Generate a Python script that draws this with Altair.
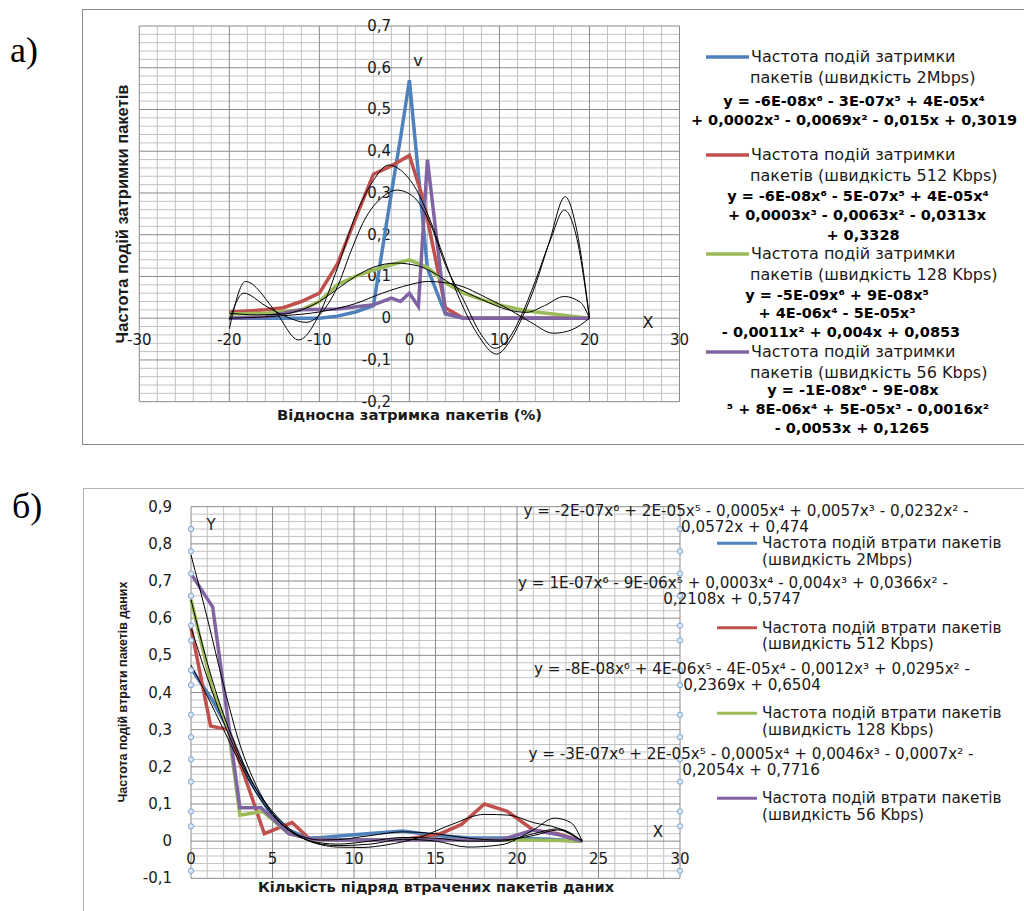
import altair as alt
import pandas as pd

# ---------------- Panel a: packet delay frequency ----------------
a_blue_x = [-20, -16, -12, -10, -8, -6, -4, -2, -1, 0, 2, 4, 6, 10, 14, 20]
a_blue_y = [0, 0, 0, 0, 0.005, 0.015, 0.03, 0.30, 0.43, 0.57, 0.12, 0.01, 0, 0, 0, 0]
a_red_x = [-20, -16, -14, -12, -10, -8, -4, -2, 0, 1.6, 4, 6, 10, 20]
a_red_y = [0.015, 0.02, 0.025, 0.04, 0.06, 0.13, 0.345, 0.365, 0.39, 0.28, 0.025, 0, 0, 0]
a_green_x = [-20, -16, -12, -10, -8, -6, -4, -2, 0, 2, 4, 6, 8, 10, 12, 14, 16, 18, 20]
a_green_y = [0.01, 0.012, 0.02, 0.04, 0.08, 0.1, 0.115, 0.128, 0.14, 0.122, 0.085, 0.06, 0.045, 0.032, 0.022, 0.015, 0.01, 0.005, 0]
a_purple_x = [-20, -16, -12, -8, -4, -2, -1, 0, 1, 2, 4, 6, 10, 14, 20]
a_purple_y = [0, 0.003, 0.02, 0.022, 0.032, 0.048, 0.04, 0.06, 0.028, 0.38, 0.012, 0, 0, 0, 0]

# trend curves (6th order)
ta_red_x = [-20, -18.2, -15, -12.3, -10, -8, -6, -4, -2.3, -1, 0.8, 2.3, 3.8, 5.3, 7.5, 9.7, 11, 12.5, 14, 15.5, 17.3, 18.5, 20]
ta_red_y = [-0.025, 0.088, 0.02, -0.052, 0.01, 0.12, 0.245, 0.33, 0.367, 0.355, 0.307, 0.235, 0.147, 0.06, -0.036, -0.086, -0.06, 0.0, 0.08, 0.18, 0.291, 0.22, 0.0]
ta_blue_x = [-20, -18.4, -16, -13.5, -11.5, -9.5, -8, -6.5, -5, -3, -1.4, 0.5, 2.3, 4.1, 6, 8, 9.5, 11, 12.3, 14, 15.7, 17.2, 18.5, 20]
ta_blue_y = [-0.005, 0.06, 0.03, 0.002, -0.01, 0.02, 0.075, 0.16, 0.235, 0.29, 0.307, 0.29, 0.227, 0.123, 0.044, -0.04, -0.072, -0.05, 0.0, 0.09, 0.19, 0.259, 0.2, 0.0]
ta_green_x = [-20, -17, -14, -12, -10, -8, -6, -4, -1.5, 1, 3, 5, 8, 11, 13, 15, 17.2, 19, 20]
ta_green_y = [0.012, 0.008, 0.01, 0.02, 0.04, 0.07, 0.1, 0.122, 0.132, 0.125, 0.105, 0.077, 0.045, 0.02, 0.014, 0.03, 0.052, 0.038, 0.0]
ta_purple_x = [-20, -17, -14, -10, -6, -3, 0, 2, 4, 6, 8, 11, 13.5, 16, 18, 20]
ta_purple_y = [0.0, 0.002, 0.006, 0.015, 0.035, 0.06, 0.08, 0.088, 0.085, 0.075, 0.055, 0.022, -0.01, -0.036, -0.028, 0.0]

a_xticks = [-30, -20, -10, 0, 10, 20, 30]
a_xlabels = ["-30", "-20", "-10", "0", "10", "20", "30"]
a_yticks = [-0.2, -0.1, 0, 0.1, 0.2, 0.3, 0.4, 0.5, 0.6, 0.7]
a_ylabels = ["-0,2", "-0,1", "0", "0,1", "0,2", "0,3", "0,4", "0,5", "0,6", "0,7"]
a_grid_x = list(range(-30, 31, 2))
a_grid_y = [round(-0.2 + 0.02 * i, 2) for i in range(46)]

a_legend = [["Частота подій затримки", "пакетів (швидкість 2Mbps)"],
            ["Частота подій затримки", "пакетів (швидкість 512 Kbps)"],
            ["Частота подій затримки", "пакетів (швидкість 128 Kbps)"],
            ["Частота подій затримки", "пакетів (швидкість 56 Kbps)"]]
a_eq = [["y = -6E-08x⁶ - 3E-07x⁵ + 4E-05x⁴", "+ 0,0002x³ - 0,0069x² - 0,015x + 0,3019"],
        ["y = -6E-08x⁶ - 5E-07x⁵ + 4E-05x⁴", "+ 0,0003x³ - 0,0063x² - 0,0313x", "+ 0,3328"],
        ["y = -5E-09x⁶ + 9E-08x⁵", "+ 4E-06x⁴ - 5E-05x³", "- 0,0011x² + 0,004x + 0,0853"],
        ["y = -1E-08x⁶ - 9E-08x", "⁵ + 8E-06x⁴ + 5E-05x³ - 0,0016x²", "- 0,0053x + 0,1265"]]

# ---------------- Panel b: consecutive packet loss frequency ----------------
b_blue_x = [0, 1.3, 2.3, 3.5, 4.8, 6, 7.2, 8, 10, 13, 15, 17, 20, 22, 24]
b_blue_y = [0.465, 0.38, 0.3, 0.17, 0.08, 0.03, 0.008, 0.01, 0.017, 0.027, 0.015, 0.009, 0.008, 0.005, 0]
b_red_x = [0, 1.2, 2.3, 4.5, 6.2, 7.3, 9, 11, 13, 15.3, 16.6, 18, 19.4, 21, 22.5, 24]
b_red_y = [0.575, 0.31, 0.30, 0.02, 0.05, 0.005, 0.003, 0.003, 0.004, 0.02, 0.045, 0.10, 0.08, 0.03, 0.02, 0]
b_green_x = [0, 1.3, 2.3, 3, 4.4, 6, 7.5, 10, 15, 20, 22.5, 24]
b_green_y = [0.65, 0.41, 0.3, 0.07, 0.08, 0.02, 0.005, 0.003, 0.003, 0.003, 0.002, 0]
b_purple_x = [0, 1.33, 3, 4.3, 6, 7.5, 9, 13, 19, 21, 22.5, 24]
b_purple_y = [0.72, 0.63, 0.09, 0.09, 0.02, 0.005, 0.003, 0.003, 0.003, 0.03, 0.018, 0]

tb_purple_x = [0, 1, 2, 3, 4, 5, 6, 7, 8, 9, 11, 13, 15, 17, 19, 21, 22.3, 23.3, 24]
tb_purple_y = [0.77, 0.6, 0.42, 0.26, 0.15, 0.075, 0.03, 0.005, -0.008, -0.012, -0.008, 0.005, 0.0, -0.016, -0.01, 0.03, 0.062, 0.05, 0.0]
tb_red_x = [0, 1, 2, 3, 4, 5, 6, 7, 8, 9, 10.5, 12, 14, 16, 18, 19.5, 21, 22.5, 24]
tb_red_y = [0.575, 0.44, 0.32, 0.22, 0.14, 0.08, 0.035, 0.005, -0.01, -0.016, -0.017, -0.01, 0.01, 0.045, 0.072, 0.07, 0.05, 0.035, 0.0]
tb_green_x = [0, 1, 2, 3, 4, 5, 6, 7, 8, 9, 11, 13, 15, 17, 19, 21, 22.5, 24]
tb_green_y = [0.65, 0.48, 0.34, 0.23, 0.14, 0.075, 0.03, 0.005, -0.005, -0.008, 0.0, 0.01, 0.008, 0.0, 0.0, 0.02, 0.033, 0.0]
tb_blue_x = [0, 1, 2, 3, 4, 5, 6, 7, 8, 9, 11, 13, 15, 17, 19, 21, 22.5, 24]
tb_blue_y = [0.474, 0.39, 0.3, 0.21, 0.13, 0.07, 0.03, 0.01, 0.003, 0.004, 0.015, 0.025, 0.02, 0.008, 0.003, 0.015, 0.03, 0.0]

b_handles_y = [0.84, 0.78, 0.72, 0.66, 0.58, 0.54, 0.46, 0.42, 0.34, 0.28, 0.22, 0.16, 0.08, 0.04, -0.08]
b_handles_x = [0, 30]

b_xticks = [0, 5, 10, 15, 20, 25, 30]
b_xlabels = ["0", "5", "10", "15", "20", "25", "30"]
b_yticks = [-0.1, 0, 0.1, 0.2, 0.3, 0.4, 0.5, 0.6, 0.7, 0.8, 0.9]
b_ylabels = ["-0,1", "0", "0,1", "0,2", "0,3", "0,4", "0,5", "0,6", "0,7", "0,8", "0,9"]
b_grid_x = list(range(0, 31, 1))
b_grid_y = [round(-0.1 + 0.02 * i, 2) for i in range(51)]

b_legend = [["Частота подій втрати пакетів", "(швидкість 2Mbps)"],
            ["Частота подій втрати пакетів", "(швидкість 512 Kbps)"],
            ["Частота подій втрати пакетів", "(швидкість 128 Kbps)"],
            ["Частота подій втрати пакетів", "(швидкість 56 Kbps)"]]
b_eq = [["y = -2E-07x⁶ + 2E-05x⁵ - 0,0005x⁴ + 0,0057x³ - 0,0232x² -", "0,0572x + 0,474"],
        ["y = 1E-07x⁶ - 9E-06x⁵ + 0,0003x⁴ - 0,004x³ + 0,0366x² -", "0,2108x + 0,5747"],
        ["y = -8E-08x⁶ + 4E-06x⁵ - 4E-05x⁴ - 0,0012x³ + 0,0295x² -", "0,2369x + 0,6504"],
        ["y = -3E-07x⁶ + 2E-05x⁵ - 0,0005x⁴ + 0,0046x³ - 0,0007x² -", "0,2054x + 0,7716"]]

# ---------------- styling / layout ----------------
COLORS = ["#4F81BD", "#C0504D", "#9BBB59", "#8064A2"]
FONT = "DejaVu Sans"
TXT = "#1a1a1a"
MINOR = "#c2c2c2"
MAJOR = "#8a8a8a"

AX0, AX1, AY0, AY1 = 139.3, 679.5, 401.7, 26.0     # panel a plot rectangle (px)
BX0, BX1, BY0, BY1 = 191.0, 680.0, 878.3, 506.7    # panel b plot rectangle (px)


def one():
    return pd.DataFrame({"d": [0]})


def txt(s, x, y, **kw):
    return alt.Chart(pd.DataFrame({"t": [s]})).mark_text(**kw).encode(
        x=alt.value(x), y=alt.value(y), text="t:N")


def prule(x1, y1, x2, y2, color, w):
    return alt.Chart(one()).mark_rule(color=color, strokeWidth=w).encode(
        x=alt.value(x1), x2=alt.value(x2), y=alt.value(y1), y2=alt.value(y2))


def vgrid(vals, color, xsc, y0, y1):
    return alt.Chart(pd.DataFrame({"v": vals})).mark_rule(color=color, strokeWidth=1).encode(
        x=alt.X("v:Q", scale=xsc, axis=None), y=alt.value(y1), y2=alt.value(y0))


def hgrid(vals, color, ysc, x0, x1):
    return alt.Chart(pd.DataFrame({"v": vals})).mark_rule(color=color, strokeWidth=1).encode(
        y=alt.Y("v:Q", scale=ysc, axis=None), x=alt.value(x0), x2=alt.value(x1))


def series(xs, ys, color, width, xsc, ysc, interp="linear"):
    df = pd.DataFrame({"x": xs, "y": ys})
    return alt.Chart(df).mark_line(color=color, strokeWidth=width, interpolate=interp).encode(
        x=alt.X("x:Q", scale=xsc, axis=None), y=alt.Y("y:Q", scale=ysc, axis=None))


def xlabels(ticks, labels, xsc, ypix, size):
    df = pd.DataFrame({"v": ticks, "lab": labels})
    return alt.Chart(df).mark_text(font=FONT, fontSize=size, color=TXT, align="center", baseline="middle").encode(
        x=alt.X("v:Q", scale=xsc, axis=None), y=alt.value(ypix), text="lab:N")


def ylabels(ticks, labels, ysc, xpix, size):
    df = pd.DataFrame({"v": ticks, "lab": labels})
    return alt.Chart(df).mark_text(font=FONT, fontSize=size, color=TXT, align="right", baseline="middle").encode(
        y=alt.Y("v:Q", scale=ysc, axis=None), x=alt.value(xpix), text="lab:N")


# ================= Panel a =================
xa = alt.Scale(domain=[-30, 30], range=[AX0, AX1], nice=False, zero=False)
ya = alt.Scale(domain=[-0.2, 0.7], range=[AY0, AY1], nice=False, zero=False)

layers_a = [
    vgrid([v for v in a_grid_x if v % 10 != 0], MINOR, xa, AY0, AY1),
    hgrid([v for v in a_grid_y if round(v * 100) % 10 != 0], MINOR, ya, AX0, AX1),
    vgrid([v for v in a_grid_x if v % 10 == 0], MAJOR, xa, AY0, AY1),
    hgrid([v for v in a_grid_y if round(v * 100) % 10 == 0], MAJOR, ya, AX0, AX1),
    xlabels(a_xticks, a_xlabels, xa, 339.5, 15),
    ylabels(a_yticks, a_ylabels, ya, 391, 15),
    series(a_blue_x, a_blue_y, COLORS[0], 3.5, xa, ya),
    series(a_red_x, a_red_y, COLORS[1], 3.5, xa, ya),
    series(a_green_x, a_green_y, COLORS[2], 3.5, xa, ya),
    series(a_purple_x, a_purple_y, COLORS[3], 3.5, xa, ya),
]
for tx, ty in [(ta_blue_x, ta_blue_y), (ta_red_x, ta_red_y), (ta_green_x, ta_green_y), (ta_purple_x, ta_purple_y)]:
    layers_a.append(series(tx, ty, "#000000", 1, xa, ya, interp="monotone"))

layers_a += [
    prule(82, 9.5, 1024, 9.5, "#8a8a8a", 1),
    prule(82.5, 9.5, 82.5, 444.5, "#8a8a8a", 1),
    prule(82, 444.5, 1024, 444.5, "#8a8a8a", 1),
    txt("а)", 10, 62, font="Liberation Serif", fontSize=36, align="left", baseline="alphabetic", color="#000"),
    txt("Частота подій затримки пакетів", 123, 214, font="Liberation Sans", fontWeight="bold",
        fontSize=16.5, angle=270, align="center", baseline="middle", color=TXT),
    txt("Відносна затримка пакетів (%)", 409.5, 416, font=FONT, fontWeight="bold",
        fontSize=14.8, align="center", baseline="middle", color=TXT),
    txt("v", 418, 61, font=FONT, fontSize=16, align="center", baseline="middle", color=TXT),
    txt("X", 648, 323, font=FONT, fontSize=16, align="center", baseline="middle", color=TXT),
]
leg_y = [57, 155, 254, 352]
eq_pos = [[(854, 102), (854, 121)],
          [(858, 197), (857, 216), (863, 236)],
          [(837, 296), (837, 314), (841, 333)],
          [(853, 391), (858, 410), (852, 429)]]
for i in range(4):
    layers_a.append(prule(706, leg_y[i], 749, leg_y[i], COLORS[i], 3.5))
    layers_a.append(txt(a_legend[i][0], 751, leg_y[i], font=FONT, fontSize=16, align="left", baseline="middle", color=TXT))
    layers_a.append(txt(a_legend[i][1], 750, leg_y[i] + 21, font=FONT, fontSize=16, align="left", baseline="middle", color=TXT))
    for s, (px, py) in zip(a_eq[i], eq_pos[i]):
        layers_a.append(txt(s, px, py, font=FONT, fontSize=14.5, fontWeight="bold",
                            align="center", baseline="middle", color="#000"))
panel_a = alt.layer(*layers_a)

# ================= Panel b =================
xb = alt.Scale(domain=[0, 30], range=[BX0, BX1], nice=False, zero=False)
yb = alt.Scale(domain=[-0.1, 0.9], range=[BY0, BY1], nice=False, zero=False)

layers_b = [
    vgrid([v for v in b_grid_x if v % 5 != 0], MINOR, xb, BY0, BY1),
    hgrid([v for v in b_grid_y if round(v * 100) % 10 != 0], MINOR, yb, BX0, BX1),
    vgrid([v for v in b_grid_x if v % 5 == 0], MAJOR, xb, BY0, BY1),
    hgrid([v for v in b_grid_y if round(v * 100) % 10 == 0], MAJOR, yb, BX0, BX1),
    xlabels(b_xticks, b_xlabels, xb, 858.5, 15),
    ylabels(b_yticks, b_ylabels, yb, 172, 15),
    series(b_blue_x, b_blue_y, COLORS[0], 3.5, xb, yb),
    series(b_red_x, b_red_y, COLORS[1], 3.5, xb, yb),
    series(b_green_x, b_green_y, COLORS[2], 3.5, xb, yb),
    series(b_purple_x, b_purple_y, COLORS[3], 3.5, xb, yb),
]
for tx, ty in [(tb_blue_x, tb_blue_y), (tb_red_x, tb_red_y), (tb_green_x, tb_green_y), (tb_purple_x, tb_purple_y)]:
    layers_b.append(series(tx, ty, "#000000", 1, xb, yb, interp="monotone"))

hdf = pd.DataFrame([(hx, hy) for hx in b_handles_x for hy in b_handles_y], columns=["x", "y"])
layers_b.append(alt.Chart(hdf).mark_point(shape="circle", size=28, filled=True, fill="#dbe6f3",
                                         stroke="#7ea6d3", strokeWidth=1, opacity=1).encode(
    x=alt.X("x:Q", scale=xb, axis=None), y=alt.Y("y:Q", scale=yb, axis=None)))

layers_b += [
    prule(83, 488.5, 1024, 488.5, "#b4b4b4", 1),
    prule(83.5, 488.5, 83.5, 911, "#b4b4b4", 1),
    txt("б)", 12, 518, font="Liberation Serif", fontSize=36, align="left", baseline="alphabetic", color="#000"),
    txt("Частота подій втрати пакетів даних", 123, 692, font="Liberation Sans Narrow, Liberation Sans",
        fontWeight="bold", fontSize=12.5, angle=270, align="center", baseline="middle", color=TXT),
    txt("Кількість підряд втрачених пакетів даних", 436, 888, font=FONT, fontWeight="bold",
        fontSize=14.5, align="center", baseline="middle", color=TXT),
    txt("Y", 211, 525, font=FONT, fontSize=15, align="center", baseline="middle", color=TXT),
    txt("X", 658, 832, font=FONT, fontSize=15, align="center", baseline="middle", color=TXT),
]
bl_y = [543.3, 627.7, 713.3, 798.3]
beq_pos = [[(746, 511), (745, 527)],
           [(733, 583), (732, 599)],
           [(752, 669), (752, 685)],
           [(751, 754), (751, 770)]]
for i in range(4):
    layers_b.append(prule(717, bl_y[i], 757, bl_y[i], COLORS[i], 3))
    layers_b.append(txt(b_legend[i][0], 762, bl_y[i], font=FONT, fontSize=15.3, align="left", baseline="middle", color=TXT))
    layers_b.append(txt(b_legend[i][1], 762, bl_y[i] + 16.7, font=FONT, fontSize=15.3, align="left", baseline="middle", color=TXT))
    for s, (px, py) in zip(b_eq[i], beq_pos[i]):
        layers_b.append(txt(s, px, py, font=FONT, fontSize=15.2, align="center", baseline="middle", color=TXT))
panel_b = alt.layer(*layers_b)

chart = (
    alt.layer(panel_a, panel_b)
    .resolve_scale(x="independent", y="independent")
    .properties(width=1024, height=911, padding=0, autosize=alt.AutoSizeParams(type="none"))
    .configure_view(stroke=None)
)
chart.save("out.html", embed_options={"renderer": "svg", "actions": False})
